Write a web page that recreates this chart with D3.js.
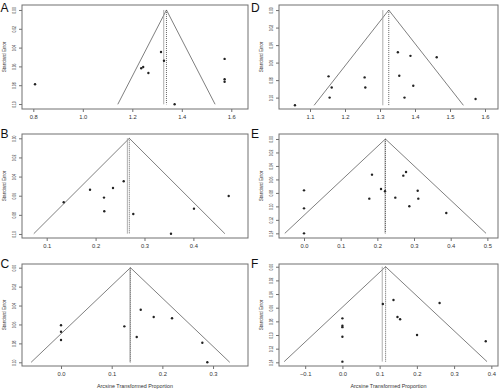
<!DOCTYPE html>
<html><head><meta charset="utf-8">
<script src="https://cdn.jsdelivr.net/npm/d3@7"></script>
<style>
html,body{margin:0;padding:0;background:#fff;}
svg{display:block;font-family:"Liberation Sans",Arial,sans-serif;}
</style></head>
<body>
<svg id="chart" width="500" height="389"></svg>
<script>
// ---- data (arcsine transformed proportion vs standard error) ----
const esA = [0.807, 1.236, 1.244, 1.265, 1.316, 1.328, 1.371, 1.573, 1.573, 1.573];
const seA = [0.079, 0.062, 0.0607, 0.067, 0.0447, 0.054, 0.1003, 0.052, 0.0737, 0.0763];
const esB = [0.1348, 0.1886, 0.2172, 0.2356, 0.2575, 0.2178, 0.2771, 0.3542, 0.4012, 0.4722];
const seB = [0.0669, 0.0537, 0.0620, 0.0519, 0.0449, 0.0763, 0.0791, 0.0997, 0.0735, 0.0603];
const esC = [0, 0, 0, 0.125, 0.1494, 0.1573, 0.1829, 0.2191, 0.2789, 0.2887];
const seC = [0.0609, 0.0677, 0.0764, 0.0620, 0.0733, 0.0444, 0.0521, 0.0535, 0.0793, 0.1000];
const esD = [1.057, 1.153, 1.162, 1.156, 1.256, 1.258, 1.351, 1.387, 1.462, 1.355, 1.395, 1.370, 1.573];
const seD = [0.1088, 0.0757, 0.0884, 0.100, 0.0769, 0.0884, 0.0481, 0.0523, 0.0538, 0.0750, 0.0865, 0.100, 0.1015];
const esE = [0, 0, 0, 0.1854, 0.21, 0.2209, 0.1781, 0.249, 0.2708, 0.2782, 0.310, 0.3117, 0.2872, 0.388];
const seE = [0.0762, 0.1029, 0.140, 0.0529, 0.0742, 0.0776, 0.0885, 0.0870, 0.0544, 0.049, 0.0767, 0.0885, 0.0999, 0.1098];
const esF = [0, 0, 0, 0, 0, 0.1086, 0.1372, 0.1479, 0.155, 0.2005, 0.261, 0.385];
const seF = [0.0756, 0.0865, 0.0885, 0.1025, 0.139, 0.0546, 0.0488, 0.0737, 0.077, 0.100, 0.0532, 0.1092];

// pooled estimates: [fixed (funnel centre), random]
const pooledA = [1.338, 1.327];
const pooledB = [0.269, 0.265];
const pooledC = [0.137, 0.136];
const pooledD = [1.325, 1.308];
const pooledE = [0.222, 0.221];
const pooledF = [0.116, 0.107];

// tick values
const xTicksA = [0.8, 1.0, 1.2, 1.4, 1.6];
const xTicksB = [0.1, 0.2, 0.3, 0.4];
const xTicksC = [0.0, 0.1, 0.2, 0.3];
const xTicksD = [1.1, 1.2, 1.3, 1.4, 1.5, 1.6];
const xTicksE = [0.0, 0.1, 0.2, 0.3, 0.4, 0.5];
const xTicksF = [-0.1, 0.0, 0.1, 0.2, 0.3, 0.4];
const yTicks10 = [0, 0.02, 0.04, 0.06, 0.08, 0.10];
const yTicks14 = [0, 0.02, 0.04, 0.06, 0.08, 0.10, 0.12, 0.14];

const xLabel = "Arcsine Transformed Proportion";
const yLabel = "Standard Error";

// ---- layout ----
const cols = [[22, 248], [279, 498]];
const rows = [[5, 109], [134, 238], [264, 366]];

const panels = [
  {letter: "A", col: 0, row: 0, es: esA, se: seA, pooled: pooledA, xt: xTicksA, yt: yTicks10, xd: [0.7543, 1.6675], yd: [-0.0053, 0.1053]},
  {letter: "B", col: 0, row: 1, es: esB, se: seB, pooled: pooledB, xt: xTicksB, yt: yTicks10, xd: [0.0495, 0.5117], yd: [-0.0045, 0.1042]},
  {letter: "C", col: 0, row: 2, es: esC, se: seC, pooled: pooledC, xt: xTicksC, yt: yTicks10, xd: [-0.0770, 0.3690], yd: [-0.0039, 0.1039]},
  {letter: "D", col: 1, row: 0, es: esD, se: seD, pooled: pooledD, xt: xTicksD, yt: yTicks10, xd: [1.0114, 1.6371], yd: [-0.0058, 0.1130]},
  {letter: "E", col: 1, row: 1, es: esE, se: seE, pooled: pooledE, xt: xTicksE, yt: yTicks14, xd: [-0.0682, 0.5290], yd: [-0.0074, 0.1469]},
  {letter: "F", col: 1, row: 2, es: esF, se: seF, pooled: pooledF, xt: xTicksF, yt: yTicks14, xd: [-0.1703, 0.4179], yd: [-0.0040, 0.1454]}
];

const svg = d3.select("#chart");
const ink = "#333";
const lineCol = "#707070";

panels.forEach(p => {
  const [x0, x1] = cols[p.col];
  const [y0, y1] = rows[p.row];
  const x = d3.scaleLinear().domain(p.xd).range([x0, x1]);
  const y = d3.scaleLinear().domain(p.yd).range([y0, y1]);
  const g = svg.append("g");
  const maxSE = d3.max(p.se);
  const [fixed, random] = p.pooled;

  // funnel (pseudo 95% CI around fixed estimate)
  g.append("path")
    .attr("d", d3.line()([
      [x(fixed - 1.96 * maxSE), y(maxSE)],
      [x(fixed), y(0)],
      [x(fixed + 1.96 * maxSE), y(maxSE)]
    ]))
    .attr("fill", "none").attr("stroke", lineCol).attr("stroke-width", 0.9);

  // pooled estimate lines
  g.append("line")
    .attr("x1", x(random)).attr("x2", x(random))
    .attr("y1", y(0)).attr("y2", y(maxSE))
    .attr("stroke", "#999").attr("stroke-width", 0.8);
  g.append("line")
    .attr("x1", x(fixed)).attr("x2", x(fixed))
    .attr("y1", y(0)).attr("y2", y(maxSE))
    .attr("stroke", "#555").attr("stroke-width", 0.9)
    .attr("stroke-dasharray", "1,1");

  // points
  g.selectAll("circle").data(p.es.map((v, i) => [v, p.se[i]])).enter()
    .append("circle")
    .attr("cx", d => x(d[0])).attr("cy", d => y(d[1]))
    .attr("r", 1.2).attr("fill", "#222");

  // box
  g.append("rect")
    .attr("x", x0).attr("y", y0).attr("width", x1 - x0).attr("height", y1 - y0)
    .attr("fill", "none").attr("stroke", lineCol).attr("stroke-width", 1);

  // x axis
  const xa = g.append("g").attr("transform", `translate(0,${y1})`)
    .call(d3.axisBottom(x).tickValues(p.xt).tickFormat(d3.format(".1f")).tickSize(3).tickPadding(3));
  xa.select(".domain").remove();
  xa.selectAll(".tick line").attr("stroke", lineCol);
  xa.selectAll("text").attr("fill", ink).attr("font-size", 5.8)
    .attr("font-family", "Liberation Sans, Arial, sans-serif");

  // y axis (labels parallel to axis, compressed along their length)
  const ya = g.append("g").attr("transform", `translate(${x0},0)`)
    .call(d3.axisLeft(y).tickValues(p.yt).tickFormat(d3.format(".2f")).tickSize(3).tickPadding(0));
  ya.select(".domain").remove();
  ya.selectAll(".tick line").attr("stroke", lineCol);
  ya.selectAll("text")
    .attr("fill", ink).attr("font-size", 6)
    .attr("font-family", "Liberation Sans, Arial, sans-serif")
    .attr("x", null).attr("dy", null)
    .attr("text-anchor", "middle")
    .attr("transform", "translate(-6,0) rotate(-90) scale(0.55,1)");

  // y label
  g.append("text")
    .attr("transform", `translate(${x0 - 16},${(y0 + y1) / 2}) rotate(-90) scale(0.78,1)`)
    .attr("text-anchor", "middle").attr("font-size", 6).attr("fill", ink)
    .text(yLabel);

  // panel letter
  g.append("text")
    .attr("x", p.col === 0 ? 0.5 : 251).attr("y", y0 + (p.row === 0 ? 7 : 4))
    .attr("font-size", 12).attr("fill", "#111")
    .text(p.letter);

  // x label on bottom row
  if (p.row === 2) {
    g.append("text")
      .attr("x", (x0 + x1) / 2).attr("y", 388)
      .attr("text-anchor", "middle").attr("font-size", 5.4).attr("fill", ink)
      .text(xLabel);
  }
});
</script>
</body></html>
